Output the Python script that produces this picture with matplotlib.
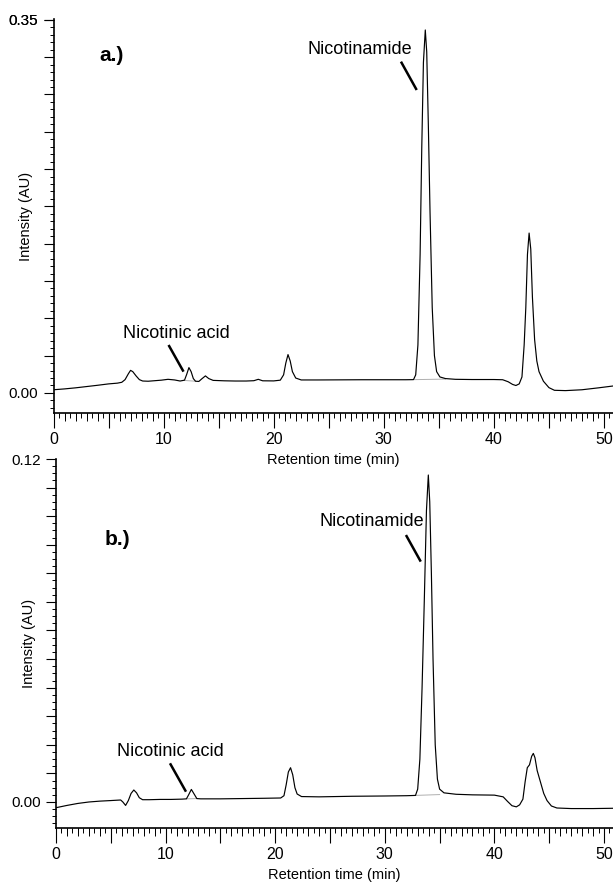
import matplotlib
matplotlib.use("Agg")
import matplotlib.pyplot as plt
from matplotlib.ticker import MultipleLocator, FixedLocator, FuncFormatter

plt.rcParams['font.family'] = ['Liberation Sans Narrow', 'Liberation Sans', 'DejaVu Sans']

# ---------------- data ----------------
time_a = [0.0, 1.0, 2.0, 3.0, 4.0, 5.0, 5.8, 6.2, 6.5, 6.8, 7.0, 7.2, 7.5, 7.8, 8.1, 8.6,
          9.2, 9.8, 10.4, 11.0, 11.5, 11.9, 12.1, 12.3, 12.5, 12.7, 12.9, 13.2, 13.5, 13.8,
          14.1, 14.5, 15.5, 16.5, 17.5, 18.2, 18.6, 19.0, 20.0, 20.6, 20.9, 21.1, 21.3, 21.5,
          21.7, 22.0, 22.5, 24.0, 26.0, 28.0, 30.0, 32.0, 32.7, 32.9, 33.1, 33.3, 33.45, 33.6,
          33.77, 33.9, 34.05, 34.2, 34.4, 34.6, 34.8, 35.1, 35.6, 36.5, 38.0, 40.0, 40.8, 41.3,
          41.7, 42.0, 42.3, 42.55, 42.75, 42.9, 43.05, 43.2, 43.35, 43.5, 43.7, 43.9, 44.1,
          44.5, 45.0, 45.5, 46.5, 48.0, 49.5, 50.8]
signal_a = [0.0030, 0.0038, 0.0048, 0.0060, 0.0072, 0.0085, 0.0092, 0.0100, 0.0125, 0.0180,
            0.0212, 0.0200, 0.0160, 0.0125, 0.0112, 0.0110, 0.0115, 0.0120, 0.0128, 0.0122,
            0.0112, 0.0120, 0.0175, 0.0238, 0.0200, 0.0135, 0.0110, 0.0108, 0.0135, 0.0160,
            0.0135, 0.0118, 0.0114, 0.0112, 0.0112, 0.0115, 0.0128, 0.0114, 0.0113, 0.0120,
            0.0170, 0.0280, 0.0360, 0.0300, 0.0200, 0.0140, 0.0122, 0.0122, 0.0123, 0.0124,
            0.0124, 0.0124, 0.0125, 0.0170, 0.0450, 0.1300, 0.2300, 0.3100, 0.3405, 0.3200,
            0.2500, 0.1700, 0.0800, 0.0350, 0.0200, 0.0150, 0.0135, 0.0128, 0.0126, 0.0126,
            0.0124, 0.0105, 0.0080, 0.0070, 0.0085, 0.0150, 0.0450, 0.0800, 0.1300, 0.1500,
            0.1350, 0.0900, 0.0500, 0.0300, 0.0200, 0.0110, 0.0050, 0.0025, 0.0022, 0.0030,
            0.0048, 0.0065]

time_b = [0.0, 1.0, 2.0, 3.0, 4.0, 5.0, 5.9, 6.1, 6.35, 6.6, 6.85, 7.1, 7.35, 7.6, 7.9, 8.5,
          9.5, 10.5, 11.5, 11.9, 12.1, 12.35, 12.6, 12.85, 13.2, 15.0, 17.0, 19.0, 20.5, 20.8,
          21.0, 21.2, 21.4, 21.6, 21.8, 22.0, 22.4, 24.0, 27.0, 30.0, 32.0, 32.8, 33.0, 33.2,
          33.4, 33.6, 33.8, 33.97, 34.1, 34.25, 34.4, 34.6, 34.8, 35.0, 35.4, 36.5, 38.0, 40.0,
          40.8, 41.2, 41.6, 42.0, 42.3, 42.6, 42.8, 43.0, 43.2, 43.4, 43.55, 43.7, 43.9, 44.2,
          44.5, 44.8, 45.2, 45.7, 47.0, 49.0, 50.8]
signal_b = [-0.0020, -0.0012, -0.0005, 0.0000, 0.0003, 0.0005, 0.0007, 0.0000, -0.0012,
            0.0005, 0.0030, 0.0042, 0.0032, 0.0015, 0.0008, 0.0008, 0.0009, 0.0009, 0.0010,
            0.0011, 0.0025, 0.0044, 0.0028, 0.0012, 0.0011, 0.0011, 0.0012, 0.0013, 0.0014,
            0.0022, 0.0060, 0.0105, 0.0120, 0.0095, 0.0050, 0.0028, 0.0019, 0.0018, 0.0020,
            0.0021, 0.0022, 0.0023, 0.0045, 0.0150, 0.0400, 0.0700, 0.1020, 0.1144, 0.1050,
            0.0800, 0.0500, 0.0200, 0.0080, 0.0045, 0.0032, 0.0027, 0.0025, 0.0024, 0.0018,
            0.0002, -0.0013, -0.0017, -0.0010, 0.0010, 0.0070, 0.0120, 0.0130, 0.0160, 0.0170,
            0.0155, 0.0110, 0.0070, 0.0030, 0.0005, -0.0014, -0.0021, -0.0023, -0.0023, -0.0022]

# integration baselines under labelled peaks (faint grey)
base_a_t = [[11.8, 12.9], [32.8, 35.6]]
base_a_v = [[0.0118, 0.0110], [0.0125, 0.0130]]
base_b_t = [[11.9, 12.9], [32.8, 35.0]]
base_b_v = [[0.0011, 0.0012], [0.0023, 0.0026]]

# annotations: label, text position (t, v), leader line (t0, v0, t1, v1)
labels_a = ["Nicotinamide", "Nicotinic acid"]
text_pos_a = [(27.8, 0.3218), (11.13, 0.056)]
leaders_a = [(31.56, 0.3108, 32.99, 0.2842), (10.45, 0.045, 11.81, 0.020)]
labels_b = ["Nicotinamide", "Nicotinic acid"]
text_pos_b = [(28.83, 0.0981), (10.4, 0.0178)]
leaders_b = [(31.93, 0.0934, 33.28, 0.0841), (10.4, 0.01354, 11.86, 0.0036)]

panel_tags = ["a.)", "b.)"]
xtick_labels = ["0", "10", "20", "30", "40", "50"]
ylims = [(-0.0188, 0.3508), (-0.0091, 0.1200)]
ytop_labels = [0.35, 0.12]
ymajor_steps = [0.035, 0.01]
yminor_steps = [0.007, 0.0025]

# ---------------- figure ----------------
fig = plt.figure(figsize=(6.13, 8.86), dpi=100)
ax_a = fig.add_axes([0.08728, 0.53386, 0.91272, 0.44470])
ax_b = fig.add_axes([0.09135, 0.06546, 0.90865, 0.41648])
ax_b.patch.set_visible(False)
ax_a.set_zorder(3)
ax_a.patch.set_visible(False)

panels = [
    (ax_a, time_a, signal_a, base_a_t, base_a_v, labels_a, text_pos_a, leaders_a, (0.1046, 0.9086)),
    (ax_b, time_b, signal_b, base_b_t, base_b_v, labels_b, text_pos_b, leaders_b, (0.1095, 0.7805)),
]

for i, (ax, t, s, bt, bv, labs, tpos, lead, tagpos) in enumerate(panels):
    for xx, yy in zip(bt, bv):
        ax.plot(xx, yy, color='#b0b0b0', lw=0.7, zorder=1)
    ax.plot(t, s, color='black', lw=0.85, zorder=2)
    ax.set_xlim(0, 50.82)
    ax.set_ylim(*ylims[i])
    for sp in ['top', 'right']:
        ax.spines[sp].set_visible(False)
    for sp in ['left', 'bottom']:
        ax.spines[sp].set_linewidth(1.2)

    # x ticks
    ax.xaxis.set_major_locator(MultipleLocator(5))
    ax.xaxis.set_minor_locator(MultipleLocator(0.5))
    ax.xaxis.set_major_formatter(FuncFormatter(
        lambda v, p: xtick_labels[int(round(v / 10))] if abs(v / 10 - round(v / 10)) < 1e-6 and 0 <= round(v / 10) < len(xtick_labels) else ""))
    ax.tick_params(axis='x', which='major', direction='out', length=11, width=0.8,
                   pad=3, labelsize=11.5)
    ax.tick_params(axis='x', which='minor', direction='out', length=3.5, width=0.7)
    sec = ax.secondary_xaxis('bottom')
    sec.spines['bottom'].set_visible(False)
    sec.xaxis.set_major_locator(FixedLocator([k for k in range(0, 51) if k % 5 != 0]))
    sec.tick_params(axis='x', which='major', direction='out', length=6, width=0.7,
                    labelbottom=False)
    sec.xaxis.set_minor_locator(FixedLocator([]))

    # y ticks
    top = ytop_labels[i]
    ax.yaxis.set_major_locator(MultipleLocator(ymajor_steps[i]))
    ax.yaxis.set_minor_locator(MultipleLocator(yminor_steps[i]))
    ax.yaxis.set_major_formatter(FuncFormatter(
        lambda v, p, top=top: "0.00" if abs(v) < 1e-9 else (f"{top:.2f}" if abs(v - top) < 1e-6 else "")))
    ax.tick_params(axis='y', which='major', direction='out', length=7, width=0.8,
                   pad=4, labelsize=11)
    ax.tick_params(axis='y', which='minor', direction='out', length=3, width=0.7)
    if i == 0:
        ax.set_yticks(list(ax.get_yticks()) + [0.35])
        ax.set_ylim(*ylims[i])

    ax.set_xlabel("Retention time (min)", fontsize=10.5, labelpad=4)
    ax.set_ylabel("Intensity (AU)", fontsize=10.5)
    ax.yaxis.set_label_coords(-0.036, 0.5)

    for lab, (tx, ty), (x0, y0, x1, y1) in zip(labs, tpos, lead):
        ax.text(tx, ty, lab, fontsize=13, ha='center', va='center')
        ax.plot([x0, x1], [y0, y1], color='black', lw=1.8, solid_capstyle='butt')

    ax.text(tagpos[0], tagpos[1], panel_tags[i], transform=ax.transAxes,
            fontsize=15, fontweight='bold', ha='center', va='center')

fig.savefig("out.png", dpi=100)
